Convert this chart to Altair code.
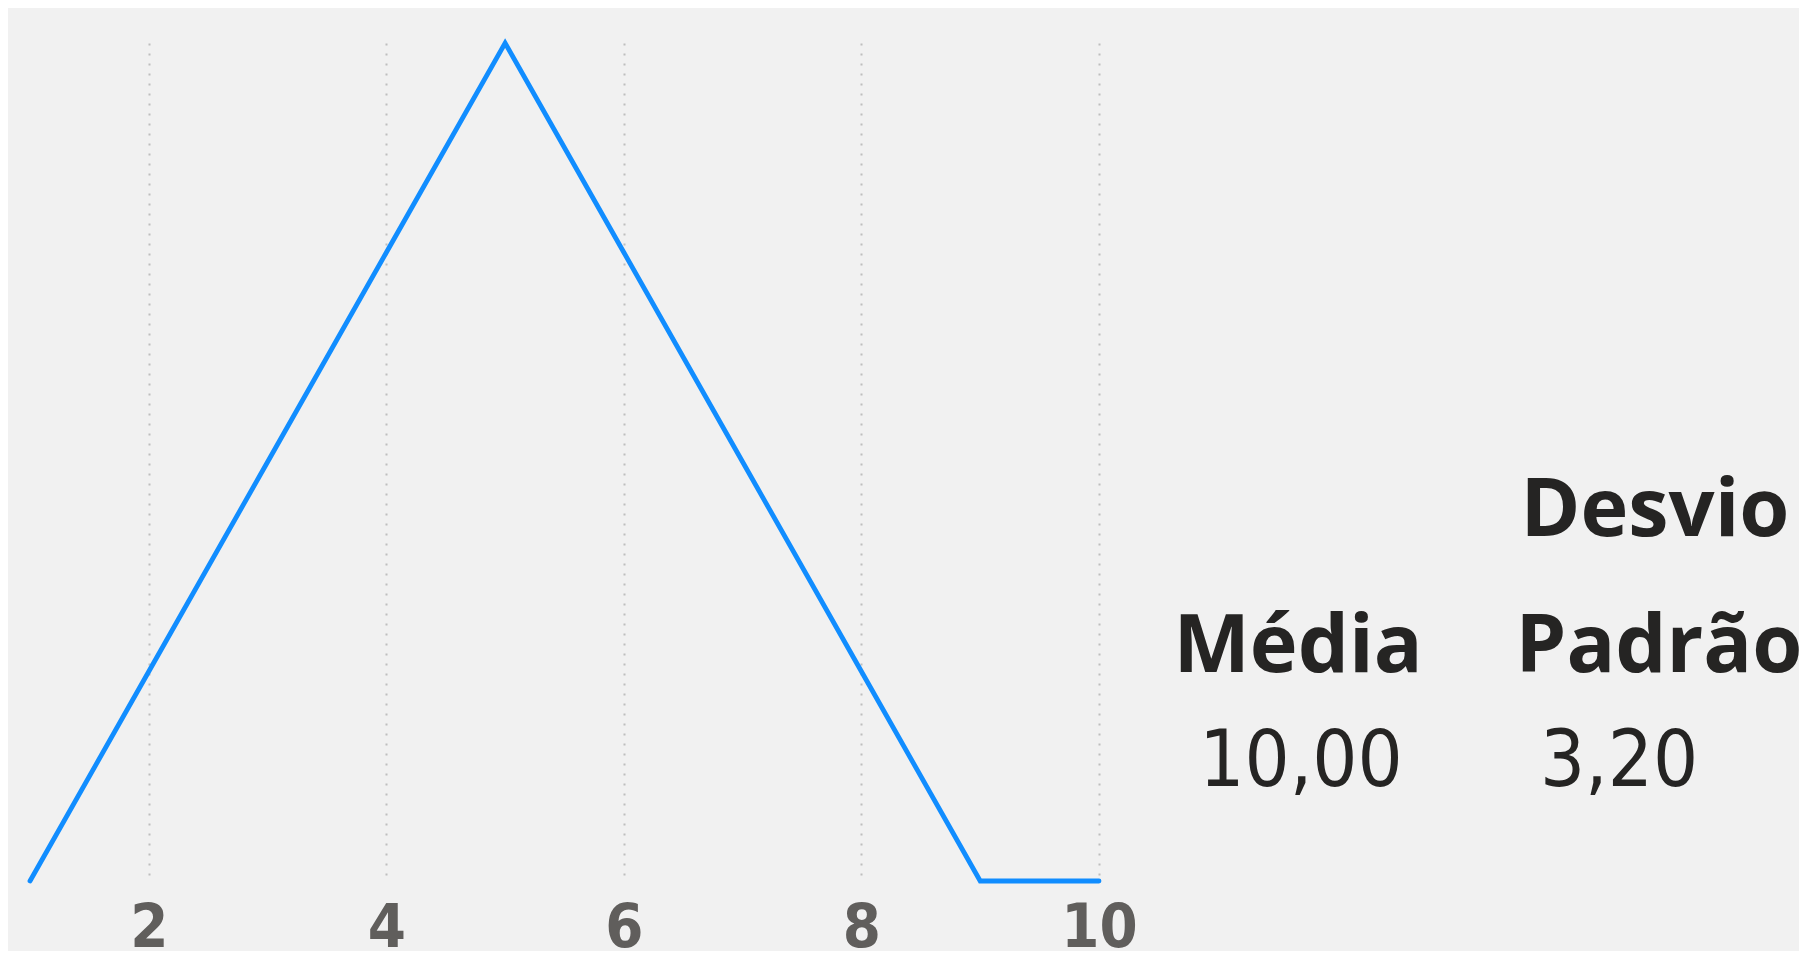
import altair as alt
import pandas as pd

# data
x_vals = [1, 2, 3, 4, 5, 6, 7, 8, 9, 10]
y_vals = [0, 1, 2, 3, 4, 3, 2, 1, 0, 0]
tick_vals = [2, 4, 6, 8, 10]

header_labels = ["Média", "Desvio", "Padrão"]
stat_values = ["10,00", "3,20"]

df = pd.DataFrame({"x": x_vals, "y": y_vals})

BG = "#F1F1F1"
BLUE = "#118DFF"
DARK = "#252423"
AXIS_GRAY = "#605E5C"
NARROW = "Liberation Sans Narrow, DejaVu Sans Condensed, Roboto, sans-serif"
BOLD = "Open Sans, Segoe UI, DejaVu Sans, sans-serif"

line = alt.Chart(df).mark_line(
    color=BLUE, strokeWidth=4.8, clip=False, strokeCap="round"
).encode(
    x=alt.X(
        "x:Q",
        scale=alt.Scale(domain=[1, 10], nice=False, zero=False),
        axis=alt.Axis(
            values=tick_vals,
            title=None,
            domain=False,
            ticks=False,
            grid=True,
            gridColor="#BEBEBE",
            gridDash=[2, 8],
            gridWidth=2,
            labelFont=NARROW,
            labelFontWeight="bold",
            labelFontSize=61,
            labelColor=AXIS_GRAY,
            labelPadding=17,
            labelFlush=False,
        ),
    ),
    y=alt.Y(
        "y:Q",
        scale=alt.Scale(domain=[0, 4], nice=False, zero=True),
        axis=None,
    ),
)

def txt(label, x, y, font, size, weight):
    return alt.Chart(pd.DataFrame({"t": [label]})).mark_text(
        font=font,
        fontSize=size,
        fontWeight=weight,
        color=DARK,
        align="center",
        baseline="alphabetic",
    ).encode(text="t:N", x=alt.value(x), y=alt.value(y))

texts = [
    txt(header_labels[1], 1625, 493, BOLD, 81, "bold"),
    txt(header_labels[0], 1268, 629, BOLD, 81, "bold"),
    txt(header_labels[2], 1629, 629, BOLD, 81, "bold"),
    txt(stat_values[0], 1271, 743, NARROW, 79, "normal"),
    txt(stat_values[1], 1589, 743, NARROW, 79, "normal"),
]

chart = alt.layer(line, *texts).properties(
    width=1069,
    height=838,
    background=BG,
    padding={"left": 22, "top": 35, "right": 700, "bottom": 70},
    autosize=alt.AutoSizeParams(type="none"),
).configure_view(stroke=None)

chart.save("out.html", embed_options={"renderer": "svg", "actions": False})
